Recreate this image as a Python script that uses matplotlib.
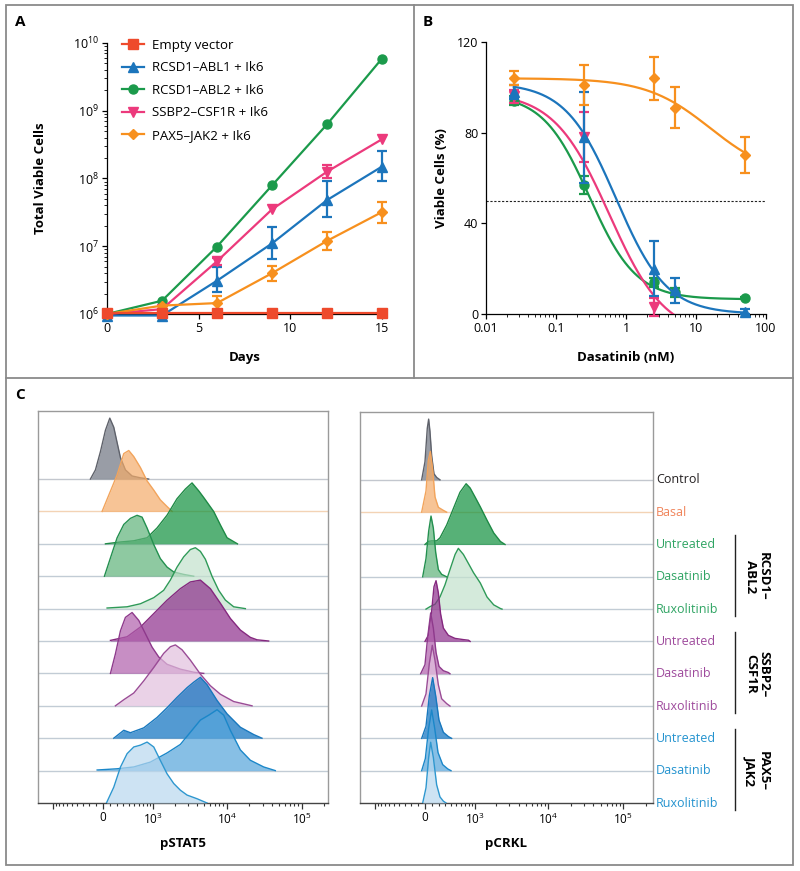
import numpy as np
import matplotlib.pyplot as plt
from matplotlib.lines import Line2D
from matplotlib.patches import Rectangle

plt.rcParams['font.family'] = ['Open Sans', 'DejaVu Sans']
plt.rcParams['mathtext.fontset'] = 'custom'
plt.rcParams['mathtext.rm'] = 'Open Sans'
plt.rcParams['mathtext.bf'] = 'Open Sans:bold'
plt.rcParams['mathtext.default'] = 'regular'
plt.rcParams['font.size'] = 8.5
plt.rcParams['axes.linewidth'] = 0.9

# ---------------- Panel A data ----------------
days = [0, 3, 6, 9, 12, 15]
empty_vector = [1.05e6, 1.05e6, 1.05e6, 1.05e6, 1.05e6, 1.05e6]
abl1 = [0.95e6, 0.95e6, 3.1e6, 1.1e7, 4.8e7, 1.5e8]
abl1_lo = [0.95e6, 0.95e6, 2.1e6, 6.5e6, 2.7e7, 9.3e7]
abl1_hi = [0.95e6, 0.95e6, 5.0e6, 1.95e7, 9.2e7, 2.57e8]
abl2 = [1.0e6, 1.57e6, 9.9e6, 7.9e7, 6.3e8, 5.9e9]
csf1r = [1.0e6, 1.18e6, 6.0e6, 3.5e7, 1.26e8, 3.8e8]
csf1r_lo = [1.0e6, 1.18e6, 5.2e6, 3.5e7, 1.0e8, 3.8e8]
csf1r_hi = [1.0e6, 1.18e6, 6.6e6, 3.5e7, 1.58e8, 3.8e8]
jak2 = [1.0e6, 1.33e6, 1.45e6, 4.0e6, 1.2e7, 3.2e7]
jak2_lo = [1.0e6, 1.33e6, 1.16e6, 3.1e6, 8.7e6, 2.24e7]
jak2_hi = [1.0e6, 1.33e6, 1.82e6, 5.1e6, 1.6e7, 4.5e7]

# ---------------- Panel B data ----------------
dose = [0.025, 0.25, 2.5, 5, 50]
b_jak2 = [104, 101, 104, 91, 70]
b_jak2_err = [3, 9, 9.5, 9, 8]
b_abl1 = [98, 78, 20, 10.5, 1]
b_abl1_err = [3, 20, 12, 5.5, 1]
dose_csf1r = [0.025, 0.25, 2.5]
b_csf1r = [96, 78, 3]
b_csf1r_err = [3, 11, 4]
b_abl2 = [94, 57, 14, 9.5, 7]
b_abl2_err = [2, 4, 2, 2, 0.5]
# four-parameter logistic fits (top, bottom, IC50, hill)
fit_jak2 = [104, 60, 16, 0.95]
fit_abl1 = [102, 0, 0.72, 1.2]
fit_csf1r = [98, -10, 0.577, 1.09]
fit_abl2 = [97, 6.5, 0.30, 1.3]

# ---------------- Panel C data ----------------
row_labels = ['Control', 'Basal', 'Untreated', 'Dasatinib', 'Ruxolitinib',
              'Untreated', 'Dasatinib', 'Ruxolitinib',
              'Untreated', 'Dasatinib', 'Ruxolitinib']
group_labels = ['RCSD1–\nABL2', 'SSBP2–\nCSF1R', 'PAX5–\nJAK2']

pstat5_x = [
    [-180, -107, -37, 32, 93, 150, 199, 251, 333, 455, 636, 855],
    [-14, 55, 126, 199, 305, 392, 489, 636, 810, 1017, 1264, 1570, 1847],
    [32, 251, 489, 810, 1134, 1570, 2150, 2795, 3435, 4222, 4926, 6700, 8226, 10100, 13030, 13900],
    [18, 102, 199, 305, 423, 559, 676, 810, 1017, 1264, 1570, 1940, 2650, 3618],
    [55, 362, 636, 1017, 1408, 1746, 2150, 2650, 3260, 3807, 4445, 5186, 6366, 7815, 9590, 12390, 17720],
    [102, 362, 636, 1017, 1570, 2390, 3260, 4445, 6043, 8226, 11190, 15200, 20650, 25350, 36240],
    [102, 174, 251, 333, 455, 597, 764, 963, 1200, 1570, 2390, 3618, 4926],
    [174, 305, 489, 719, 1017, 1408, 1746, 2045, 2517, 3260, 4445, 6043, 8226, 12390, 21750],
    [150, 305, 423, 719, 1134, 1570, 2150, 2945, 3618, 4445, 5456, 7425, 10100, 15200, 22890, 29530],
    [-83, 199, 489, 909, 1570, 2390, 3260, 4445, 5741, 7425, 9110, 11190, 15200, 20650, 31080, 44450],
    [46, 150, 251, 362, 489, 636, 810, 1017, 1264, 1570, 1940, 2390, 2945, 4008, 5456],
]
pstat5_h = [
    [0, 0.15, 0.45, 0.8, 1.0, 0.85, 0.6, 0.35, 0.15, 0.05, 0.02, 0],
    [0, 0.2, 0.4, 0.6, 0.95, 1.0, 0.9, 0.72, 0.5, 0.35, 0.19, 0.08, 0],
    [0, 0.03, 0.05, 0.1, 0.26, 0.47, 0.74, 0.9, 1.0, 0.87, 0.76, 0.53, 0.31, 0.1, 0.02, 0],
    [0, 0.3, 0.63, 0.85, 0.95, 1.0, 0.97, 0.79, 0.52, 0.29, 0.15, 0.07, 0.03, 0],
    [0.01, 0.03, 0.08, 0.18, 0.3, 0.47, 0.68, 0.85, 0.97, 1.0, 0.94, 0.81, 0.53, 0.3, 0.14, 0.03, 0],
    [0.01, 0.07, 0.23, 0.45, 0.67, 0.86, 0.97, 1.0, 0.86, 0.62, 0.37, 0.18, 0.06, 0.02, 0],
    [0, 0.32, 0.7, 0.92, 1.0, 0.87, 0.65, 0.43, 0.27, 0.15, 0.07, 0.02, 0],
    [0, 0.1, 0.21, 0.41, 0.63, 0.86, 0.97, 1.0, 0.92, 0.75, 0.52, 0.33, 0.19, 0.07, 0],
    [0, 0.13, 0.09, 0.17, 0.34, 0.5, 0.67, 0.83, 0.92, 1.0, 0.88, 0.62, 0.4, 0.18, 0.06, 0],
    [0.01, 0.03, 0.06, 0.14, 0.29, 0.43, 0.63, 0.83, 0.91, 1.0, 0.91, 0.66, 0.34, 0.17, 0.06, 0],
    [0, 0.26, 0.59, 0.81, 0.92, 0.95, 1.0, 0.92, 0.7, 0.48, 0.32, 0.21, 0.13, 0.07, 0],
]
pcrkl_x = [
    [-46, 0, 32, 51, 69, 93, 126, 165, 215],
    [-46, 14, 46, 74, 107, 141, 190, 268, 323],
    [0, 46, 93, 165, 215, 323, 444, 584, 734, 846, 1003, 1192, 1482, 1836, 2265, 2620],
    [-32, 14, 51, 84, 117, 151, 190, 241, 323],
    [14, 69, 141, 215, 295, 381, 479, 547, 664, 798, 950, 1192, 1482, 1836, 2265, 2385],
    [0, 46, 93, 126, 156, 190, 225, 268, 352, 477, 664, 798, 846],
    [-60, 0, 37, 79, 117, 156, 200, 268, 352, 381],
    [-46, 14, 60, 102, 141, 190, 241, 323, 381],
    [-46, 14, 60, 107, 151, 200, 268, 352, 412],
    [-46, 5, 51, 93, 136, 185, 257, 340, 400],
    [-32, 14, 51, 79, 117, 165, 215, 268, 313],
]
pcrkl_h = [
    [0, 0.3, 0.85, 1.0, 0.8, 0.4, 0.1, 0.04, 0],
    [0, 0.35, 0.85, 1.0, 0.7, 0.25, 0.08, 0.03, 0],
    [0, 0.05, 0.06, 0.06, 0.11, 0.32, 0.59, 0.86, 1.0, 0.93, 0.78, 0.62, 0.4, 0.19, 0.05, 0],
    [0, 0.3, 0.75, 1.0, 0.8, 0.4, 0.12, 0.04, 0],
    [0, 0.04, 0.08, 0.2, 0.4, 0.65, 0.9, 1.0, 0.9, 0.75, 0.6, 0.43, 0.2, 0.07, 0.01, 0],
    [0, 0.1, 0.5, 0.9, 1.0, 0.8, 0.45, 0.22, 0.1, 0.05, 0.03, 0.02, 0],
    [0, 0.15, 0.6, 1.0, 0.75, 0.35, 0.12, 0.05, 0.02, 0],
    [0, 0.2, 0.7, 1.0, 0.75, 0.35, 0.12, 0.04, 0],
    [0, 0.2, 0.7, 1.0, 0.7, 0.3, 0.1, 0.03, 0],
    [0, 0.2, 0.7, 1.0, 0.7, 0.3, 0.1, 0.03, 0],
    [0, 0.25, 0.75, 1.0, 0.75, 0.3, 0.1, 0.03, 0],
]

# colours
RED, BLUE, GREEN, PINK, ORANGE = '#EE4A2C', '#1C75BC', '#1B9A4B', '#EC3A7C', '#F7901E'
fill_colors = ['#6E7480', '#F4AC6A', '#10913D', '#5FB27A', '#C3E2CD',
               '#8E2E8C', '#B05FAB', '#E2C0DE', '#0A6FBF', '#55A4DB', '#B8D8EF']
edge_colors = ['#5E616A', '#F2A45C', '#1F8A46', '#23904F', '#2F9A58',
               '#85287F', '#8E3A8C', '#9A4C96', '#1878BE', '#1B87C9', '#2E97CF']
label_colors = ['#231F20', '#F0845A', '#2FA463', '#2FA463', '#2FA463',
                '#9E4A9C', '#9E4A9C', '#9E4A9C', '#2493CF', '#2493CF', '#2493CF']
base_colors = ['#C3C7CE', '#F3D3B5'] + ['#C2CCD5'] * 9

W, H = 800, 871
fig = plt.figure(figsize=(W / 100, H / 100), dpi=100)


def box(x0, y0, x1, y1):
    # pixel box (top-left origin) -> figure fraction rect
    return [x0 / W, 1 - y1 / H, (x1 - x0) / W, (y1 - y0) / H]


# ---------------- Panel A ----------------
axA = fig.add_axes(box(107, 43, 382, 314))
series = [
    ('RCSD1–ABL1 + Ik6', abl1, abl1_lo, abl1_hi, BLUE, '^', 7),
    ('RCSD1–ABL2 + Ik6', abl2, abl2, abl2, GREEN, 'o', 6.5),
    ('SSBP2–CSF1R + Ik6', csf1r, csf1r_lo, csf1r_hi, PINK, 'v', 7),
    ('PAX5–JAK2 + Ik6', jak2, jak2_lo, jak2_hi, ORANGE, 'D', 5.5),
]
leg_handles = []
lE, = axA.plot(days, empty_vector, color=RED, marker='s', ms=6.5, lw=1.6,
               clip_on=False, zorder=5)
leg_handles.append(lE)
for name, v, lo, hi, c, m, ms in series:
    v = np.array(v)
    lo = np.array(lo)
    hi = np.array(hi)
    ln, = axA.plot(days, v, color=c, marker=m, ms=ms, lw=1.6, clip_on=False, zorder=3)
    leg_handles.append(ln)
    has = (hi > v) | (lo < v)
    if has.any():
        d = np.array(days)[has]
        h = axA.errorbar(d, v[has], yerr=[v[has] - lo[has], hi[has] - v[has]], fmt='none',
                         ecolor=c, capsize=3.5, capthick=1.6, elinewidth=1.6, zorder=3)
        for art in tuple(h.lines[1]) + tuple(h.lines[2]):
            art.set_clip_on(False)
axA.set_yscale('log')
axA.set_xlim(0, 15)
axA.set_ylim(1e6, 1e10)
axA.set_xticks([0, 5, 10, 15])
axA.spines[['top', 'right']].set_visible(False)
axA.tick_params(axis='both', labelsize=9, length=3.5, width=0.9, pad=2)
axA.tick_params(axis='y', which='minor', length=2)
axA.set_ylabel('Total Viable Cells', fontweight='bold', fontsize=9.5)
axA.yaxis.set_label_coords(-0.22, 0.5)
axA.set_xlabel('Days', fontweight='bold', fontsize=9.5)
axA.xaxis.set_label_coords(0.5, -0.135)
leg_names = ['Empty vector'] + [s[0] for s in series]
axA.legend(leg_handles, leg_names, loc='upper left', bbox_to_anchor=(0.035, 1.035),
           frameon=False, fontsize=9.5, handlelength=1.7, labelspacing=0.72,
           handletextpad=0.55, borderaxespad=0)

# ---------------- Panel B ----------------
axB = fig.add_axes(box(486, 42, 766, 314))


def logistic(x, p):
    top, bottom, ic50, hill = p
    return bottom + (top - bottom) / (1 + (x / ic50) ** hill)


xs = np.logspace(np.log10(0.025), np.log10(50), 300)
b_series = [
    (dose, b_abl2, b_abl2_err, fit_abl2, GREEN, 'o', 6.5),
    (dose_csf1r, b_csf1r, b_csf1r_err, fit_csf1r, PINK, 'v', 7),
    (dose, b_abl1, b_abl1_err, fit_abl1, BLUE, '^', 7),
    (dose, b_jak2, b_jak2_err, fit_jak2, ORANGE, 'D', 5.5),
]
for k, (d, v, e, p, c, m, ms) in enumerate(b_series):
    axB.plot(xs, logistic(xs, p), color=c, lw=1.6, zorder=2 + k)
    h = axB.errorbar(d, v, yerr=e, color=c, marker=m, ms=ms, ls='none',
                     capsize=3.5, capthick=1.6, elinewidth=1.6, zorder=3 + k)
    for art in (h.lines[0],) + tuple(h.lines[1]) + tuple(h.lines[2]):
        art.set_clip_on(False)
axB.axhline(50, color='#222222', lw=0.8, ls=(0, (2, 1.5)), zorder=1)
axB.set_xscale('log')
axB.set_xlim(0.01, 100)
axB.set_ylim(0, 120)
axB.set_xticks([0.01, 0.1, 1, 10, 100], ['0.01', '0.1', '1', '10', '100'])
axB.set_yticks([0, 40, 80, 120])
axB.spines[['top', 'right']].set_visible(False)
axB.tick_params(axis='both', labelsize=9, length=3.5, width=0.9, pad=2)
axB.tick_params(axis='x', which='minor', length=2)
axB.set_ylabel('Viable Cells (%)', fontweight='bold', fontsize=9.5)
axB.yaxis.set_label_coords(-0.135, 0.5)
axB.set_xlabel('Dasatinib (nM)', fontweight='bold', fontsize=9.5)
axB.xaxis.set_label_coords(0.5, -0.135)

# ---------------- Panel C ----------------
PEAK = 1.88
major = [-1000, 0, 1000, 1e4, 1e5]
minor = ([-900, -800, -700, -600, -500, -400, -300, -200, -100,
          100, 200, 300, 400, 500, 600, 700, 800, 900]
         + [k * 1e3 for k in range(2, 10)] + [k * 1e4 for k in range(2, 10)] + [2e5])


def flow_panel(ax, xs_list, hs_list, xmax, name):
    n = len(xs_list)
    ax.set_xscale('asinh', linear_width=450)
    for i in range(n):
        base = n - 1 - i
        if base > 0:
            ax.axhline(base, color=base_colors[i], lw=1.0, zorder=0.5)
    for i in range(n):
        base = n - 1 - i
        x = np.array(xs_list[i], dtype=float)
        y = base + np.array(hs_list[i]) * PEAK
        ax.fill_between(x, base, y, color=fill_colors[i], alpha=0.7, lw=0, zorder=1 + i)
        ax.plot(x, y, color=edge_colors[i], lw=1.0, zorder=1 + i)
    ax.set_xlim(-1630, xmax)
    ax.set_ylim(0, 12.1)
    ax.set_yticks([])
    ax.set_xticks(major, ['', '0', '$10^3$', '$10^4$', '$10^5$'])
    ax.set_xticks(minor, minor=True)
    ax.tick_params(axis='x', which='major', length=4, width=0.9, labelsize=8.5,
                   pad=2, color='#333333')
    ax.tick_params(axis='x', which='minor', length=2.2, width=0.8, color='#333333')
    for s in ax.spines.values():
        s.set_color('#9A9A9A')
        s.set_linewidth(1.0)
    ax.spines['bottom'].set_color('#444444')
    ax.set_xlabel(name, fontweight='bold', fontsize=9.5)
    ax.xaxis.set_label_coords(0.5, -0.088)


axC1 = fig.add_axes(box(38, 411, 328, 803))
flow_panel(axC1, pstat5_x, pstat5_h, 2.24e5, 'pSTAT5')
axC2 = fig.add_axes(box(360, 412, 653, 803))
flow_panel(axC2, pcrkl_x, pcrkl_h, 2.5e5, 'pCRKL')

trans = axC2.get_yaxis_transform()
n = len(row_labels)
for i, lab in enumerate(row_labels):
    axC2.text(1.01, n - 1 - i, lab, transform=trans, ha='left', va='center',
              color=label_colors[i], fontsize=9, clip_on=False)
for g, lab in enumerate(group_labels):
    top_row = 2 + 3 * g
    y_top = n - 1 - top_row + 0.28
    y_bot = n - 1 - (top_row + 2) - 0.22
    axC2.add_line(Line2D([1.28, 1.28], [y_bot, y_top], transform=trans,
                         color='#222222', lw=1.0, clip_on=False))
    axC2.text(1.355, n - 1 - (top_row + 1), lab, transform=trans, rotation=270,
              ha='center', va='center', fontweight='bold', fontsize=9.5,
              linespacing=1.0, clip_on=False)

# ---------------- frame, dividers, panel letters ----------------
frame_c = '#8A8A8A'
fig.add_artist(Rectangle((6 / W, 1 - 865 / H), 787 / W, 860 / H, fill=False,
                         edgecolor=frame_c, lw=1.3, transform=fig.transFigure))
fig.add_artist(Line2D([6 / W, 793 / W], [1 - 378 / H] * 2, color=frame_c, lw=1.3))
fig.add_artist(Line2D([414 / W] * 2, [1 - 378 / H, 1 - 5 / H], color=frame_c, lw=1.3))
for letter, px, py in [('A', 15, 22), ('B', 423, 22), ('C', 15, 395)]:
    fig.text(px / W, 1 - py / H, letter, fontweight='bold', fontsize=11,
             ha='left', va='center')

fig.savefig('out.png', dpi=100, facecolor='white')
